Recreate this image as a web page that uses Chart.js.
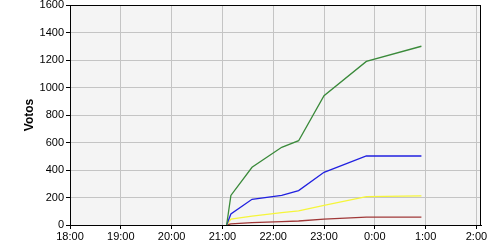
<!DOCTYPE html>
<html>
<head>
<meta charset="utf-8">
<script src="https://cdn.jsdelivr.net/npm/chart.js@4/dist/chart.umd.min.js"></script>
<style>
html,body{margin:0;padding:0;background:#fff;}
#wrap{width:500px;height:250px;position:relative;}
</style>
</head>
<body>
<div id="wrap"><canvas id="c" width="500" height="250"></canvas></div>
<script>
// time in hours (24 = 0:00 next day)
const times = [21.083, 21.167, 21.583, 22.167, 22.5, 23.0, 23.833, 24.917];
const green = [0, 215, 420, 565, 613, 940, 1190, 1300];
const blue = [0, 80, 187, 215, 250, 383, 502, 502];
const yellow = [0, 42, 65, 90, 103, 142, 206, 212];
const red = [0, 8, 18, 25, 29, 42, 57, 58];
const tickHours = [18, 19, 20, 21, 22, 23, 24, 25, 26];
const yTicks = [0, 200, 400, 600, 800, 1000, 1200, 1400, 1600];
const yTitle = 'Votos';

function pts(vals){ return vals.map((v,i)=>({x:times[i], y:v})); }
function ds(vals, color){
  return {data: pts(vals), borderColor: color, backgroundColor: color, borderWidth: 1.3,
    pointRadius: 0, tension: 0, fill: false};
}

const bgPlugin = {
  id: 'bg',
  beforeDraw(chart){
    const {ctx, chartArea:a} = chart;
    ctx.save();
    ctx.fillStyle = '#fff';
    ctx.fillRect(0,0,chart.width,chart.height);
    ctx.fillStyle = '#f4f4f4';
    ctx.fillRect(a.left, a.top, a.right-a.left, a.bottom-a.top);
    ctx.restore();
  },
  afterDraw(chart){
    const {ctx, chartArea:a} = chart;
    ctx.save();
    ctx.strokeStyle = '#000';
    ctx.lineWidth = 1;
    ctx.strokeRect(a.left+0.5, a.top+0.5, a.right-a.left-1, a.bottom-a.top);
    ctx.restore();
  }
};

new Chart(document.getElementById('c'), {
  type: 'line',
  data: { datasets: [ds(green,'#3a8a3a'), ds(blue,'#2020e0'), ds(yellow,'#f5f53a'), ds(red,'#a03838')] },
  options: {
    responsive: false,
    animation: false,
    layout: { padding: { top: 5, right: 19, left: 0, bottom: 0 } },
    plugins: { legend: { display: false }, tooltip: { enabled: false } },
    scales: {
      x: {
        type: 'linear', min: 18, max: 26.09,
        afterBuildTicks(s){ s.ticks = tickHours.map(v=>({value:v})); },
        afterFit(s){ s.height = 25; s.paddingLeft = 0; s.paddingRight = 0; },
        ticks: { color: '#000', font: { family: 'Liberation Sans', size: 11 }, padding: 1, maxRotation: 0,
          callback: v => (v % 24) + ':00' },
        grid: { color: '#c4c4c4', tickColor: '#000', tickLength: 4, lineWidth: 1 },
        border: { color: '#000' }
      },
      y: {
        min: 0, max: 1600,
        afterBuildTicks(s){ s.ticks = yTicks.map(v=>({value:v})); },
        afterFit(s){ s.width = 70; s.paddingTop = 0; s.paddingBottom = 0; },
        ticks: { color: '#000', font: { family: 'Liberation Sans', size: 11 }, padding: 2,
          callback: v => String(v) },
        grid: { color: '#c4c4c4', tickColor: '#000', tickLength: 4, lineWidth: 1 },
        border: { color: '#000' },
        title: { display: true, text: yTitle, color: '#000', font: { family: 'Liberation Sans', size: 12, weight: 'bold' }, padding: { top: 22, bottom: 0 } }
      }
    }
  },
  plugins: [bgPlugin]
});
</script>
</body>
</html>
